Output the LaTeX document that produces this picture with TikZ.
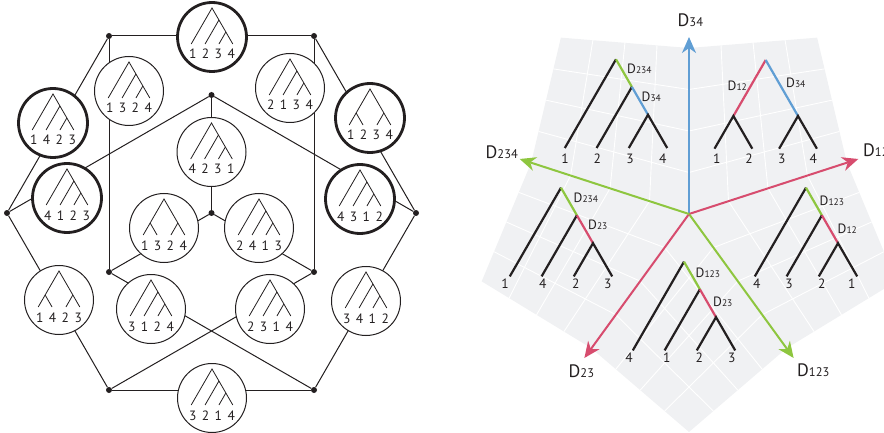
\documentclass[tikz,border=0pt]{standalone}
\usepackage{fontspec}
\setmainfont{PT Sans}
\usetikzlibrary{arrows.meta,calc}

\definecolor{ink}{RGB}{35,31,32}
\definecolor{axblue}{RGB}{96,158,212}
\definecolor{axred}{RGB}{215,76,110}
\definecolor{axgreen}{RGB}{142,198,63}
\definecolor{sheetgray}{RGB}{240,241,243}

\tikzset{
  edge/.style={draw=ink,line width=1pt},
  junction/.style={circle,fill=ink,inner sep=0pt,minimum size=6pt},
  treering/.style={circle,draw=ink,fill=white,line width=1pt,minimum size=69pt,inner sep=0pt},
  boldring/.style={treering,line width=2.8pt},
  twig/.style={draw=ink,line width=0.8pt},
  leafnum/.style={text=ink,inner sep=0pt,anchor=base,font=\fontsize{13.5}{13.5}\selectfont},
  branch/.style={draw=ink,line width=2.2pt},
  gridline/.style={draw=white,line width=0.9pt},
  axis/.style={line width=2pt,-{Stealth[length=16pt,width=14pt,inset=5pt]}},
  tag/.style={text=ink,inner sep=0pt,anchor=base west},
}

\newcommand\Dtag[1]{{\fontsize{13.5}{13.5}\selectfont D}{\fontsize{9.5}{9.5}\selectfont #1}}
\newcommand\Daxis[1]{{\fontsize{18}{18}\selectfont D}{\fontsize{12.5}{12.5}\selectfont #1}}

% leaf numbers under a small tree inside ring #1
\newcommand\ringlabels[5]{%
  \node[leafnum] (#1-a) at (-19.3,22) {#2};
  \node[leafnum] (#1-b) at (-6.4,22) {#3};
  \node[leafnum] (#1-c) at (6.4,22) {#4};
  \node[leafnum] (#1-d) at (19.3,22) {#5};}

% caterpillar tree inside ring #1
\newcommand\ringcat[5]{%
  \begin{scope}[shift={(#1.center)}]
    \draw[twig] (-20.8,7) -- (0,-29) -- (20.8,7);
    \draw[twig] (-6.93,7) -- (6.93,-17);
    \draw[twig] (6.93,7) -- (13.86,-5);
    \ringlabels{#1}{#2}{#3}{#4}{#5}
  \end{scope}}

% balanced tree inside ring #1
\newcommand\ringbal[5]{%
  \begin{scope}[shift={(#1.center)}]
    \draw[twig] (-20.8,7) -- (0,-29) -- (20.8,7);
    \draw[twig] (-6.93,7) -- (-13.86,-5);
    \draw[twig] (6.93,7) -- (13.86,-5);
    \ringlabels{#1}{#2}{#3}{#4}{#5}
  \end{scope}}

% large caterpillar tree with apex #1 and coloured spine #2, #3
\newcommand\bigcat[3]{%
  \begin{scope}[shift={(#1)}]
    \draw[branch] (0,0) -- (-51.2,88.7);
    \draw[branch,draw=#2] (0,0) -- (15.9,27.6);
    \draw[branch] (15.9,27.6) -- (-19.4,88.7);
    \draw[branch,draw=#3] (15.9,27.6) -- (32,55.5);
    \draw[branch] (12.8,88.7) -- (32,55.5) -- (51.2,88.7);
  \end{scope}}

% large balanced tree with apex #1 and coloured inner edges #2, #3
\newcommand\bigbal[3]{%
  \begin{scope}[shift={(#1)}]
    \draw[branch,draw=#2] (0,0) -- (-32.3,56);
    \draw[branch,draw=#3] (0,0) -- (32.3,56);
    \draw[branch] (-51.2,88.7) -- (-32.3,56) -- (-13.4,88.7);
    \draw[branch] (13.4,88.7) -- (32.3,56) -- (51.2,88.7);
  \end{scope}}

\begin{document}
\begin{tikzpicture}[x=1pt,y=-1pt]
\useasboundingbox (0,0) rectangle (884,433);

% ---------------- tree graph ----------------
\node[junction] (TL) at (109,36) {};
\node[junction] (TR) at (314,36) {};
\node[junction] (CT) at (211.5,95) {};
\node[junction] (L)  at (7,213) {};
\node[junction] (R)  at (416,213) {};
\node[junction] (C)  at (211.5,213) {};
\node[junction] (IL) at (109,272) {};
\node[junction] (IR) at (314,272) {};
\node[junction] (BL) at (109,390) {};
\node[junction] (BR) at (314,390) {};

\foreach \p/\q in {TL/TR,TR/R,R/BR,BR/BL,BL/L,L/TL,TL/IL,TR/IR,CT/L,CT/R,CT/C,C/IL,C/IR,IL/BR,IR/BL}
  \draw[edge] (\p) -- (\q);

\node[boldring] (T1)  at (212,37) {};
\node[treering] (T2)  at (129,91) {};
\node[treering] (T3)  at (290,88) {};
\node[boldring] (T4)  at (53,123) {};
\node[boldring] (T5)  at (370,118) {};
\node[treering] (T6)  at (211.5,152) {};
\node[boldring] (T7)  at (67,198) {};
\node[boldring] (T8)  at (360,199) {};
\node[treering] (T9)  at (164,228) {};
\node[treering] (T10) at (259,228) {};
\node[treering] (T11) at (59,300) {};
\node[treering] (T12) at (151,309) {};
\node[treering] (T13) at (270,309) {};
\node[treering] (T14) at (366,301) {};
\node[treering] (T15) at (212,398) {};

\ringcat{T1}{1}{2}{3}{4}
\ringcat{T2}{1}{3}{2}{4}
\ringcat{T3}{2}{1}{3}{4}
\ringcat{T4}{1}{4}{2}{3}
\ringbal{T5}{1}{2}{3}{4}
\ringcat{T6}{4}{2}{3}{1}
\ringcat{T7}{4}{1}{2}{3}
\ringcat{T8}{4}{3}{1}{2}
\ringbal{T9}{1}{3}{2}{4}
\ringcat{T10}{2}{4}{1}{3}
\ringbal{T11}{1}{4}{2}{3}
\ringcat{T12}{3}{1}{2}{4}
\ringcat{T13}{2}{3}{1}{4}
\ringcat{T14}{3}{4}{1}{2}
\ringcat{T15}{3}{2}{1}{4}

% ---------------- five-sheet fan ----------------
\begin{scope}[shift={(689,214)},y=1pt]
  \foreach \a/\m/\b in {90/54/18,18/-18/-54,-54/-90/-126,-126/-162/-198,-198/-234/-270}{
    \fill[sheetgray] (0,0) -- (\a:166) -- (\m:218) -- (\b:166) -- cycle;
    \foreach \k in {0.25,0.5,0.75}{
      \draw[gridline] ($(0,0)!\k!(\a:166)$) -- ($(\b:166)!\k!(\m:218)$);
      \draw[gridline] ($(0,0)!\k!(\b:166)$) -- ($(\a:166)!\k!(\m:218)$);
    }
  }
  \coordinate (O) at (0,0);
  \coordinate (tip34)  at (90:177);
  \coordinate (tip12)  at (18:178);
  \coordinate (tip123) at (-54:178);
  \coordinate (tip23)  at (-126:178);
  \coordinate (tip234) at (162:178);
\end{scope}

\draw[axis,draw=axblue]  (O) -- (tip34);
\draw[axis,draw=axred]   (O) -- (tip12);
\draw[axis,draw=axgreen] (O) -- (tip123);
\draw[axis,draw=axred]   (O) -- (tip23);
\draw[axis,draw=axgreen] (O) -- (tip234);

\node[tag] (lab34)  at (677.5,27) {\Daxis{34}};
\node[tag] (lab12)  at (863,157) {\Daxis{12}};
\node[tag] (lab234) at (485.5,158.5) {\Daxis{234}};
\node[tag] (lab23)  at (568.5,377) {\Daxis{23}};
\node[tag] (lab123) at (797,376.5) {\Daxis{123}};

% trees on the sheets
\coordinate (apexTL) at (616,59.3);
\coordinate (apexTR) at (765.7,60);
\coordinate (apexLL) at (561,187.7);
\coordinate (apexB)  at (684,261.7);
\coordinate (apexR)  at (806,187.7);

\bigcat{apexTL}{axgreen}{axblue}
\bigbal{apexTR}{axred}{axblue}
\bigcat{apexLL}{axgreen}{axred}
\bigcat{apexB}{axgreen}{axred}
\bigcat{apexR}{axgreen}{axred}

\node[tag] (tTLa) at (627,73.5) {\Dtag{234}};
\node[tag] (tTLb) at (641.5,102) {\Dtag{34}};
\node[tag] (tTRa) at (727.5,91) {\Dtag{12}};
\node[tag] (tTRb) at (786,87.5) {\Dtag{34}};
\node[tag] (tLLa) at (573.5,203) {\Dtag{234}};
\node[tag] (tLLb) at (588,229.5) {\Dtag{23}};
\node[tag] (tBa)  at (695.5,277) {\Dtag{123}};
\node[tag] (tBb)  at (713,306) {\Dtag{23}};
\node[tag] (tRa)  at (819.5,205) {\Dtag{123}};
\node[tag] (tRb)  at (837.5,233.5) {\Dtag{12}};

% leaf numbers
\foreach \x/\t [count=\i] in {565/1,597.3/2,630/3,662.7/4}
  \node[leafnum] (nTL\i) at (\x,163.5) {\t};
\foreach \x/\t [count=\i] in {716.7/1,749/2,781.7/3,813.3/4}
  \node[leafnum] (nTR\i) at (\x,164) {\t};
\foreach \x/\t [count=\i] in {505/1,542.7/4,575.7/2,607.7/3}
  \node[leafnum] (nLL\i) at (\x,288.5) {\t};
\foreach \x/\t [count=\i] in {629/4,666.7/1,699.3/2,731.7/3}
  \node[leafnum] (nB\i) at (\x,362) {\t};
\foreach \x/\t [count=\i] in {756.7/4,789/3,821.7/2,851.7/1}
  \node[leafnum] (nR\i) at (\x,288.5) {\t};

\end{tikzpicture}
\end{document}
